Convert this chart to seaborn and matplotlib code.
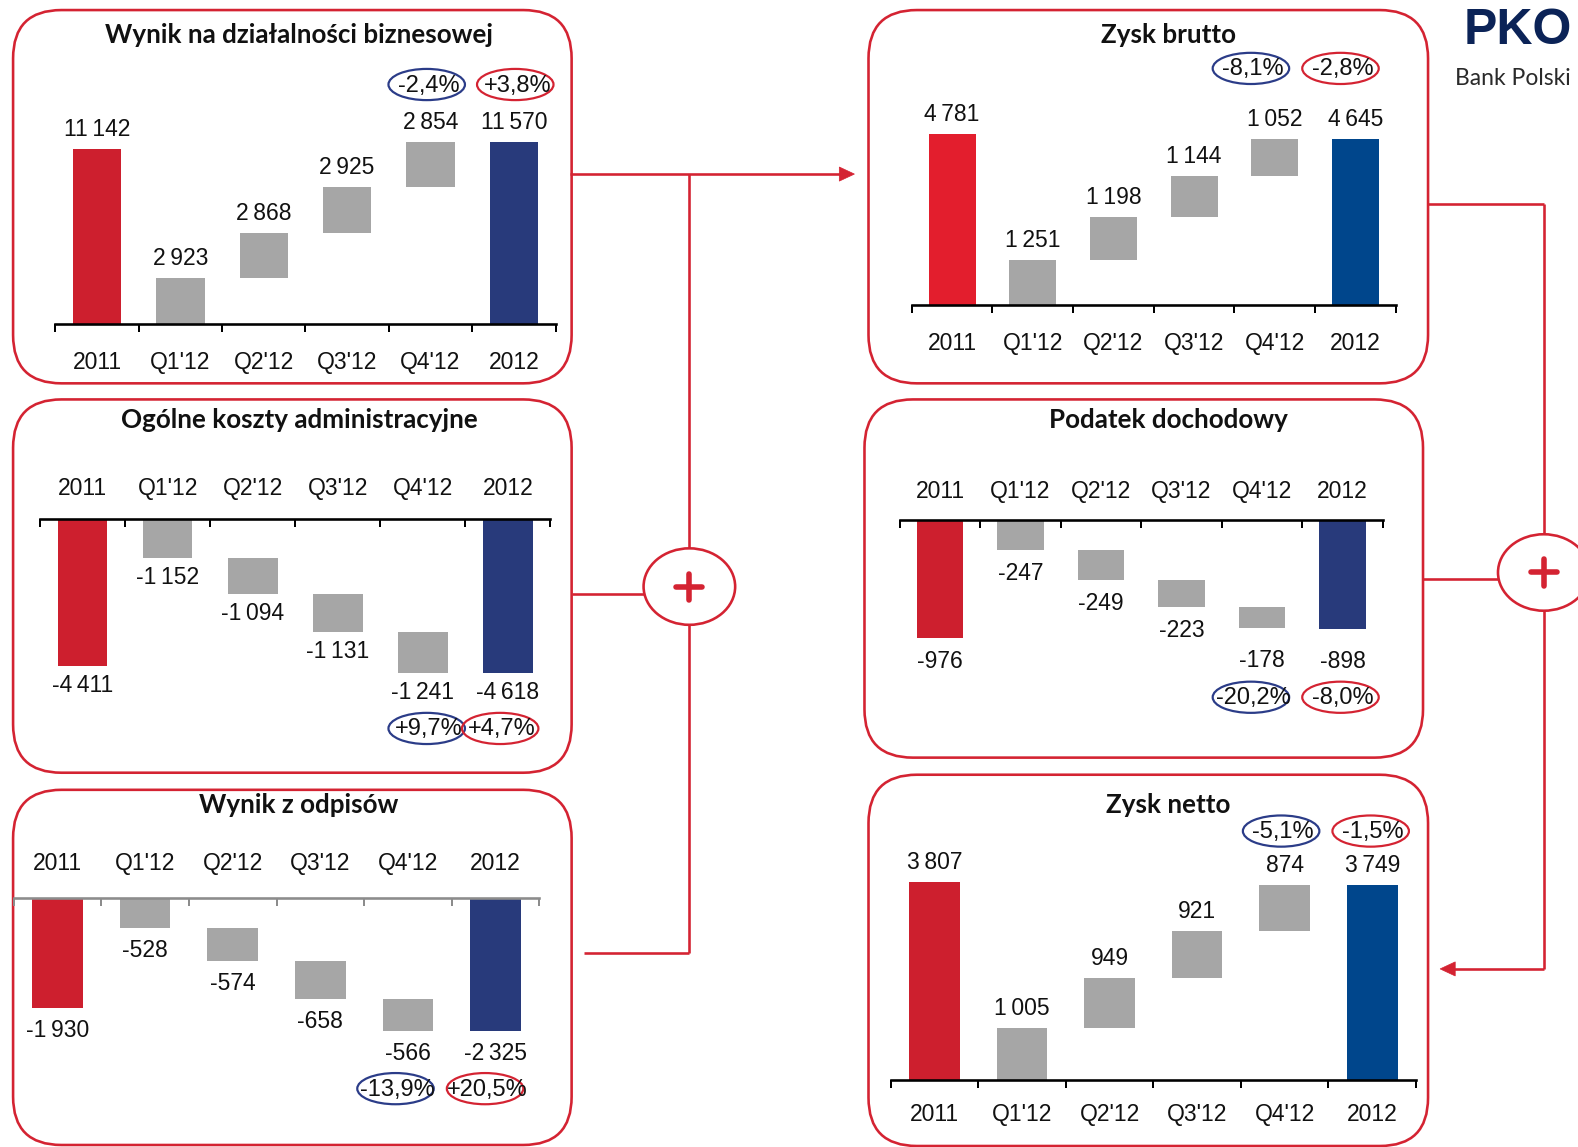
import numpy as np
import pandas as pd
import matplotlib
matplotlib.use("Agg")
import matplotlib.pyplot as plt
from matplotlib.patches import FancyBboxPatch, Ellipse, Polygon
from matplotlib.ticker import FixedLocator, NullLocator
import seaborn as sns

# ---------------------------------------------------------------- data
OKRESY = ["2011", "Q1'12", "Q2'12", "Q3'12", "Q4'12", "2012"]

wynik_biznesowy = [11142, 2923, 2868, 2925, 2854, 11570]
koszty_admin = [-4411, -1152, -1094, -1131, -1241, -4618]
wynik_odpisy = [-1930, -528, -574, -658, -566, -2325]
zysk_brutto = [4781, 1251, 1198, 1144, 1052, 4645]
podatek = [-976, -247, -249, -223, -178, -898]
zysk_netto = [3807, 1005, 949, 921, 874, 3749]

# change Q4'12 vs Q3'12 and 2012 vs 2011, in %
zmiana_kw = [-2.4, 9.7, -13.9, -8.1, -20.2, -5.1]
zmiana_rr = [3.8, 4.7, 20.5, -2.8, -8.0, -1.5]

TYTULY = ["Wynik na działalności biznesowej", "Ogólne koszty administracyjne",
          "Wynik z odpisów", "Zysk brutto", "Podatek dochodowy", "Zysk netto"]

# ---------------------------------------------------------------- style
RED = "#CD1F2E"
RED_BRIGHT = "#E31E2D"
NAVY = "#283A7B"
BLUE = "#00468C"
GRAY = "#A6A6A6"
LINE_RED = "#D42332"
ELL_BLUE = "#2B3C88"

NUM_FONT = ["Liberation Sans Narrow", "Liberation Sans", "DejaVu Sans"]
TITLE_FONT = ["Lato", "DejaVu Sans"]

sns.set_theme(style="white")
plt.rcParams["font.family"] = NUM_FONT
plt.rcParams["axes.unicode_minus"] = False

W, H = 1568, 1140          # canvas units (pixels of the layout grid)
PT = 0.72                  # points per pixel at dpi 100

fig = plt.figure(figsize=(15.78, 11.47), dpi=100)
fig.patch.set_facecolor("white")

bg = fig.add_axes([0, 0, 1, 1])
bg.set_xlim(0, W)
bg.set_ylim(H, 0)
bg.axis("off")


def rect(x0, x1, y0, y1):
    return [x0 / W, 1 - y1 / H, (x1 - x0) / W, (y1 - y0) / H]


def fmt_num(v):
    s = f"{abs(v):,}".replace(",", "\u2009")
    return ("-" if v < 0 else "") + s


def fmt_pct(v):
    return f"{v:+.1f}".replace(".", ",") + "%"


# panel layout: box, title, chart area, y-range, label padding, colours,
# change-bubble row, gap under negative value labels, extra drop of the
# last two value labels
PANELE = [
    dict(values=wynik_biznesowy, box=(13, 568, 10, 381), title=(297, 35),
         area=(55, 552, 100, 322), ylim=(0, 14213), pad=36,
         c0=RED, c1=NAVY, pct_y=84, pct_x=(424, 512), base="black",
         gap=8, drop=0),
    dict(values=koszty_admin, box=(13, 568, 397, 768), title=(297, 417),
         area=(40, 547, 516, 720), ylim=(-6163, 0), pad=28,
         c0=RED, c1=NAVY, pct_y=724, pct_x=(424, 497), base="black",
         gap=8, drop=0),
    dict(values=wynik_odpisy, box=(13, 568, 785, 1138), title=(297, 800),
         area=(13.5, 536, 893, 1070), ylim=(-3133, 0), pad=32,
         c0=RED, c1=NAVY, pct_y=1082, pct_x=(393, 482), base="#8C8C8C",
         gap=11, drop=0),
    dict(values=zysk_brutto, box=(863, 1419, 10, 381), title=(1161, 35),
         area=(906, 1387, 90, 303), ylim=(0, 5990), pad=36,
         c0=RED_BRIGHT, c1=BLUE, pct_y=68, pct_x=(1243, 1332), base="black",
         gap=8, drop=0),
    dict(values=podatek, box=(859, 1414, 397, 753), title=(1161, 417),
         area=(894, 1374, 517, 720), ylim=(-1693, 0), pad=26,
         c0=RED, c1=NAVY, pct_y=693, pct_x=(1243, 1332), base="black",
         gap=12, drop=9),
    dict(values=zysk_netto, box=(863, 1419, 770, 1139), title=(1161, 800),
         area=(885, 1407, 840, 1073), ylim=(0, 4524), pad=32,
         c0=RED, c1=BLUE, pct_y=826, pct_x=(1273, 1362), base="black",
         gap=8, drop=0),
]


def waterfall(ax, values, c0, c1, ylim, pad, base, gap, drop):
    start, *kw, end = values
    bottoms = [0] + list(np.cumsum([0] + kw[:-1])) + [0]
    df = pd.DataFrame({"okres": OKRESY, "wartosc": values})
    sns.barplot(data=df, x="okres", y="wartosc", order=OKRESY, ax=ax,
                color=GRAY, saturation=1, width=0.58, errorbar=None,
                bottom=bottoms, linewidth=0)
    ax.patches[0].set_facecolor(c0)
    ax.patches[-1].set_facecolor(c1)

    positive = values[0] > 0
    ax.set_xlim(-0.5, 5.5)
    ax.set_ylim(*ylim)
    ax.set_xlabel("")
    ax.set_ylabel("")
    ax.patch.set_alpha(0)
    for s in ax.spines.values():
        s.set_visible(False)
    ax.yaxis.set_major_locator(NullLocator())

    spine = ax.spines["bottom"] if positive else ax.spines["top"]
    spine.set_visible(True)
    spine.set_color(base)
    spine.set_linewidth(2.6 * PT)

    ax.xaxis.set_minor_locator(FixedLocator(np.arange(-0.5, 6.0, 1.0)))
    if positive:
        ax.xaxis.tick_bottom()
        ax.tick_params(axis="x", which="major", length=0,
                       pad=(pad - 8.5) * PT, labelsize=16.5, colors="#111111")
        ax.tick_params(axis="x", which="minor", bottom=True, direction="out",
                       length=8 * PT, width=2 * PT, color=base)
    else:
        ax.xaxis.tick_top()
        ax.tick_params(axis="x", which="major", length=0,
                       pad=(pad - 8.5) * PT, labelsize=16.5, colors="#111111")
        ax.tick_params(axis="x", which="minor", top=True, bottom=False,
                       direction="in", length=8 * PT, width=2 * PT, color=base)

    for i, (v, b) in enumerate(zip(values, bottoms)):
        extra = drop if i >= 4 else 0
        if v > 0:
            ax.annotate(fmt_num(v), (i, b + v), xytext=(0, 8),
                        textcoords="offset pixels", ha="center", va="bottom",
                        fontsize=16.5, color="#111111", annotation_clip=False)
        else:
            ax.annotate(fmt_num(v), (i, b + v), xytext=(0, -gap - extra),
                        textcoords="offset pixels", ha="center", va="top",
                        fontsize=16.5, color="#111111", annotation_clip=False)


for p, tytul, kw_chg, rr_chg in zip(PANELE, TYTULY, zmiana_kw, zmiana_rr):
    x0, x1, y0, y1 = p["box"]
    bg.add_patch(FancyBboxPatch((x0, y0), x1 - x0, y1 - y0,
                                boxstyle="round,pad=0,rounding_size=48",
                                fill=False, ec=LINE_RED, lw=2.6 * PT, zorder=2))
    bg.text(p["title"][0], p["title"][1], tytul, ha="center", va="center",
            fontsize=18.7, fontweight="bold", family=TITLE_FONT, color="#111111")

    ax = fig.add_axes(rect(*p["area"]))
    waterfall(ax, p["values"], p["c0"], p["c1"], p["ylim"], p["pad"],
              p["base"], p["gap"], p["drop"])

    for x, val, ec in zip(p["pct_x"], (kw_chg, rr_chg), (ELL_BLUE, LINE_RED)):
        bg.add_patch(Ellipse((x, p["pct_y"]), 76, 31, fill=False, ec=ec,
                             lw=2.2 * PT, zorder=3))
        bg.text(x + 2, p["pct_y"] + 1, fmt_pct(val), ha="center", va="center",
                fontsize=17, color="#111111", zorder=4)

# ---------------------------------------------------------------- flow lines
LW = 2.6 * PT


def line(xs, ys):
    bg.plot(xs, ys, color=LINE_RED, lw=LW, solid_capstyle="butt", zorder=1)


def plus_node(cx, cy):
    bg.add_patch(Ellipse((cx, cy), 91, 76, fc="white", ec=LINE_RED, lw=LW, zorder=3))
    bg.plot([cx - 13, cx + 13], [cy, cy], color=LINE_RED, lw=4, zorder=4,
            solid_capstyle="round")
    bg.plot([cx, cx], [cy - 13, cy + 13], color=LINE_RED, lw=4, zorder=4,
            solid_capstyle="round")


# left column -> Zysk brutto
line([566, 836], [173, 173])
bg.add_patch(Polygon([(834, 166), (849, 173), (834, 180)], closed=True,
                     fc=LINE_RED, ec=LINE_RED, lw=0.5))
line([685, 685], [173, 583])
line([568, 640], [590, 590])
line([685, 685], [583, 947])
line([580, 685], [947, 947])
plus_node(685, 583)

# right column -> Zysk netto
line([1419, 1534], [203, 203])
line([1534, 1534], [203, 569])
line([1414, 1490], [575, 575])
line([1534, 1534], [569, 963])
line([1445, 1534], [963, 963])
bg.add_patch(Polygon([(1446, 956), (1431, 963), (1446, 970)], closed=True,
                     fc=LINE_RED, ec=LINE_RED, lw=0.5))
plus_node(1534, 569)

# bank mark in the corner
bg.text(1508, 44, "PKO", ha="center", va="baseline", fontsize=36,
        fontweight="bold", color="#0B2357", family=NUM_FONT)
bg.text(1446, 78, "Bank Polski", ha="left", va="center", fontsize=16.5,
        color="#2A2A2A", family=TITLE_FONT)

fig.savefig("out.png", dpi=100, facecolor="white")
